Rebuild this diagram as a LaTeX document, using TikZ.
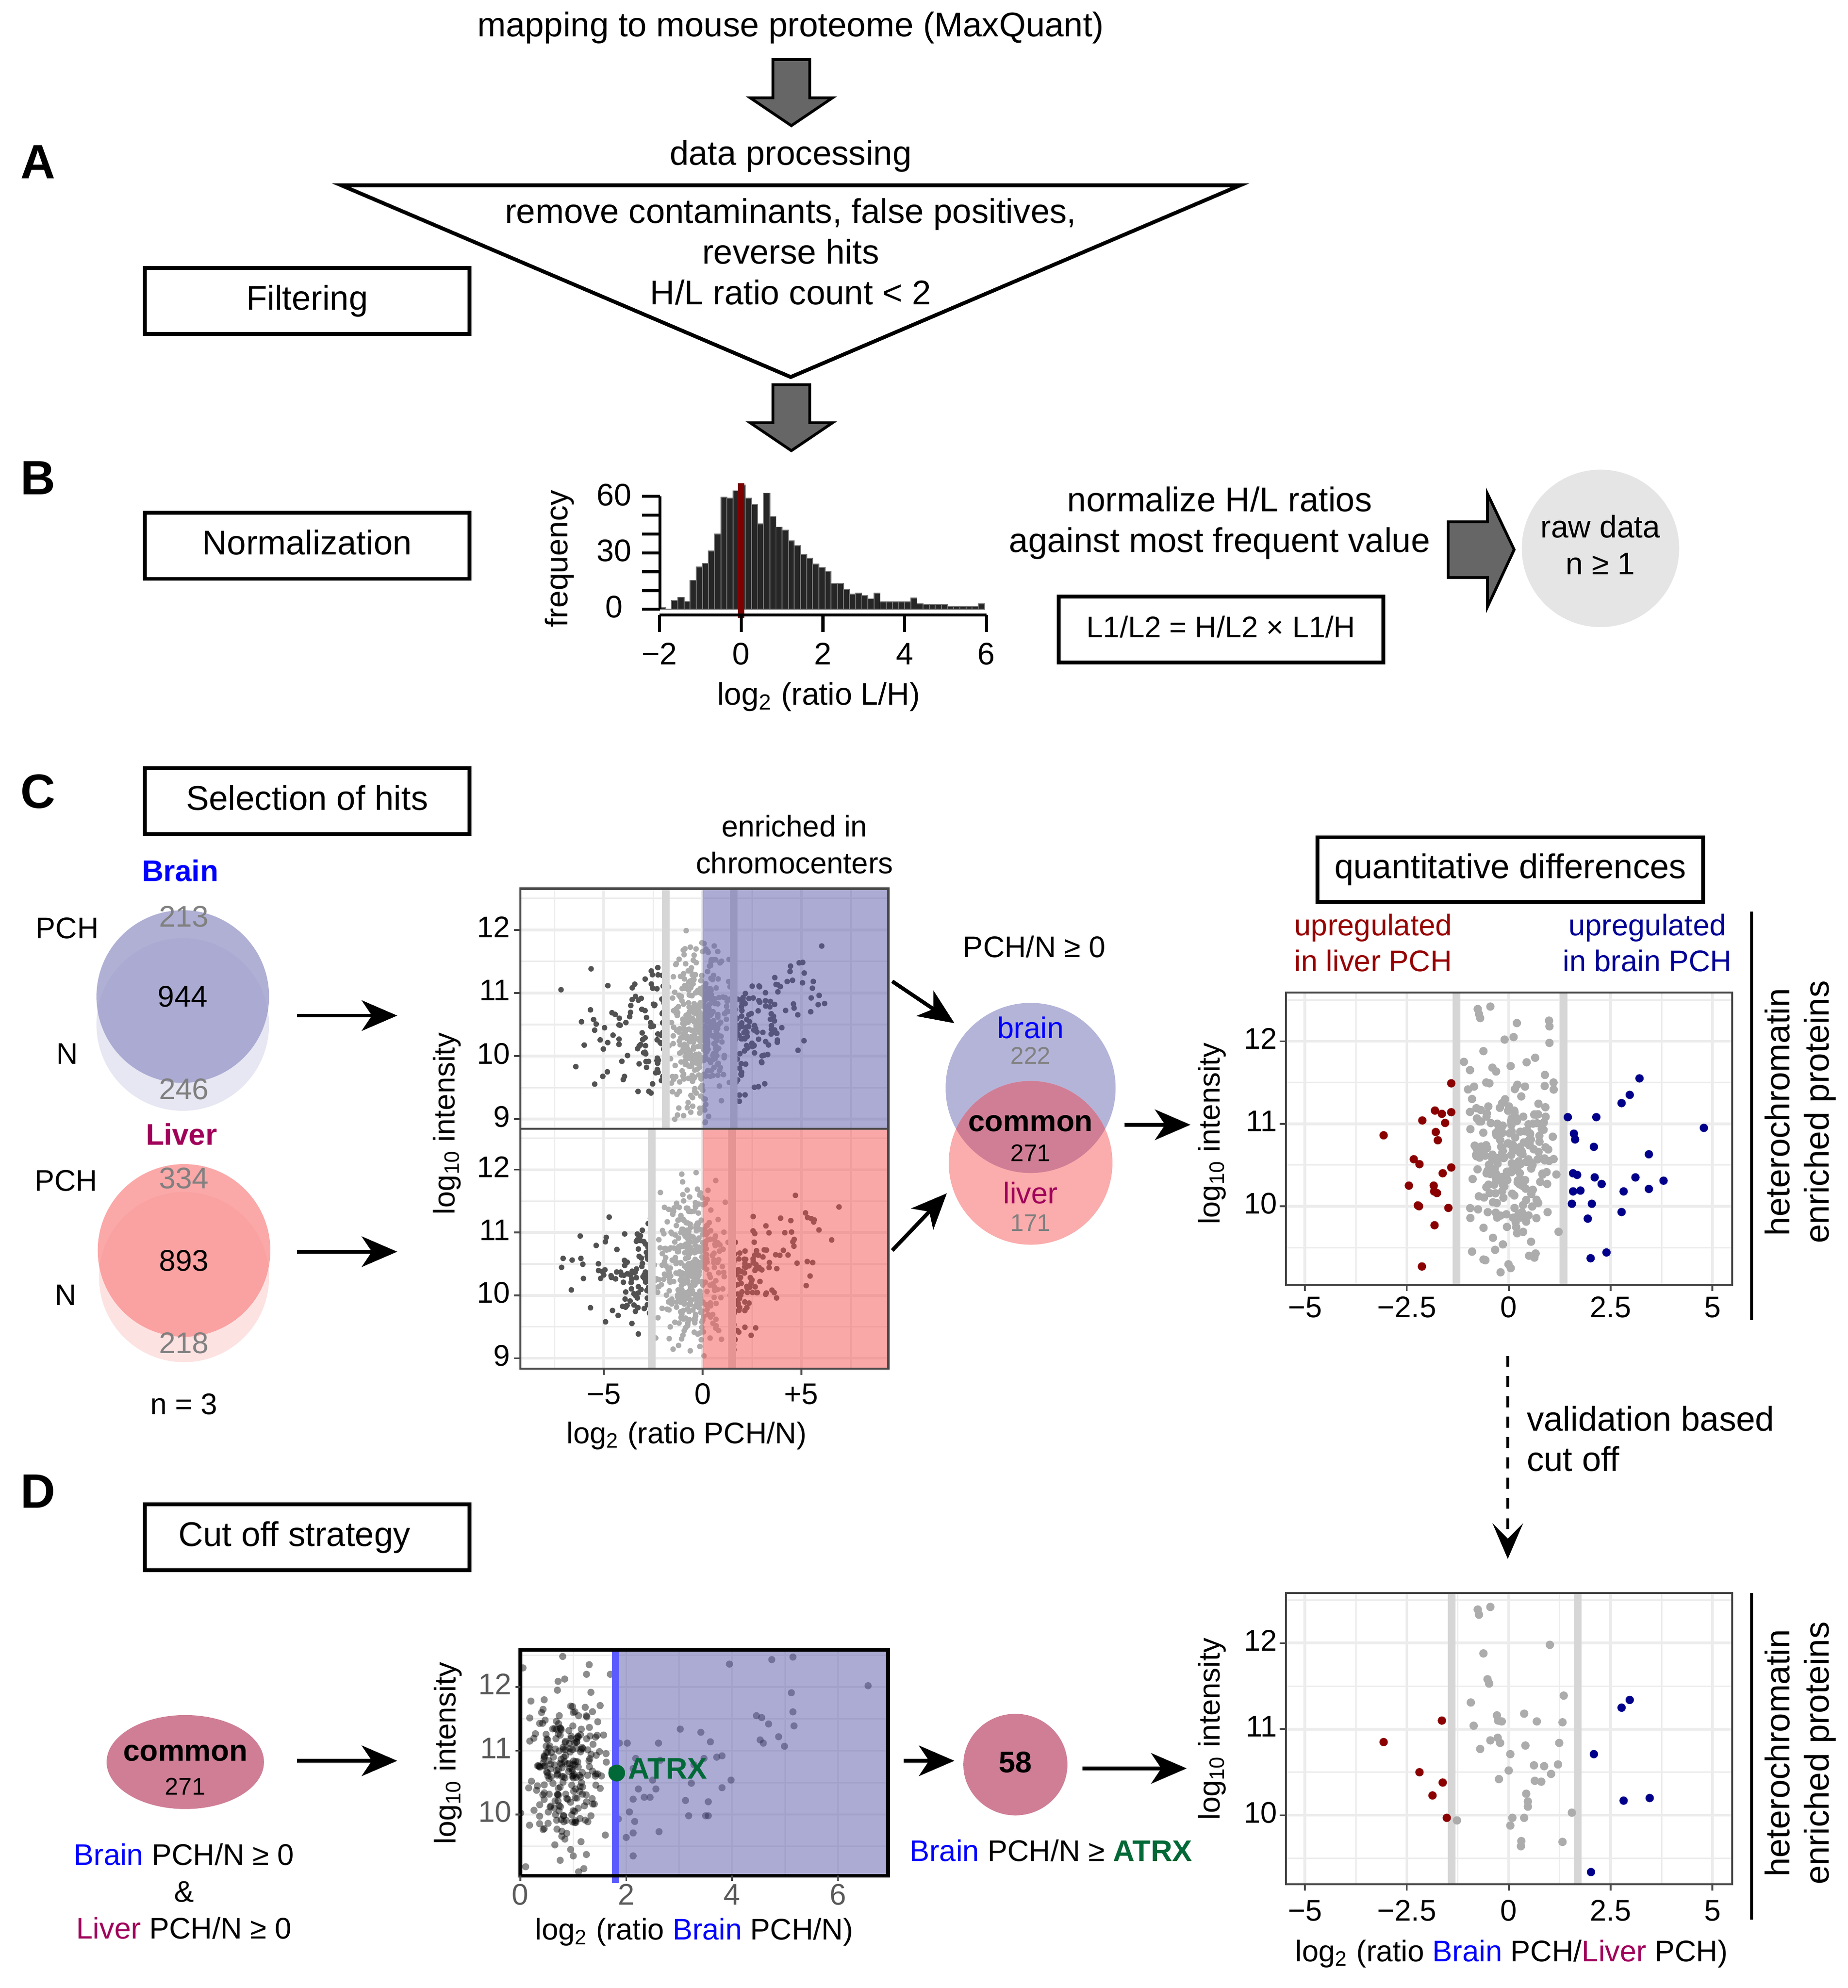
\documentclass[tikz,border=0pt]{standalone}
\usepackage{fontspec}
\setmainfont{Liberation Sans}
\usetikzlibrary{arrows.meta}
\definecolor{arrowgray}{RGB}{102,102,102}
\definecolor{histred}{RGB}{125,0,0}
\definecolor{brainblue}{RGB}{0,0,255}
\definecolor{liverpink}{RGB}{160,0,90}
\definecolor{numgray}{RGB}{128,128,128}
\definecolor{vbpch}{RGB}{150,150,200}
\definecolor{vbn}{RGB}{231,231,243}
\definecolor{vlpch}{RGB}{250,140,140}
\definecolor{vln}{RGB}{253,226,226}
\definecolor{mbrain}{RGB}{180,180,217}
\definecolor{mliver}{RGB}{251,172,172}
\definecolor{commonc}{RGB}{207,126,150}
\definecolor{shadeb}{RGB}{89,89,169}
\definecolor{shader}{RGB}{245,81,81}
\definecolor{gridc}{RGB}{236,236,236}
\definecolor{cutc}{RGB}{214,214,214}
\definecolor{ptlight}{RGB}{172,172,172}
\definecolor{ptdark}{RGB}{82,82,82}
\definecolor{upred}{RGB}{150,0,0}
\definecolor{upblue}{RGB}{0,0,150}
\definecolor{ptred}{RGB}{139,0,0}
\definecolor{ptblue}{RGB}{0,0,139}
\definecolor{atrxgreen}{RGB}{0,105,55}
\definecolor{dline}{RGB}{90,90,255}
\definecolor{rawgray}{RGB}{229,229,229}
\definecolor{panelc}{RGB}{70,70,70}
\begin{document}
\begin{tikzpicture}[x=0.5pt,y=-0.5pt,
  every node/.style={inner sep=0pt,outer sep=0pt},
  fmain/.style={font=\fontsize{13.5}{16}\selectfont,text height=9.7pt,text depth=2.7pt},
  fsmall/.style={font=\fontsize{11.75}{14}\selectfont,text height=8.5pt,text depth=2.4pt},
  fsmallb/.style={font=\fontsize{11.75}{14}\selectfont\bfseries,text height=8.5pt,text depth=2.4pt},
  fnum/.style={font=\fontsize{9.5}{11}\selectfont,text height=6.9pt,text depth=1.9pt},
  fhist/.style={font=\fontsize{12.3}{14}\selectfont,text height=8.9pt,text depth=2.5pt},
  secl/.style={font=\fontsize{19}{22}\selectfont\bfseries,text height=13.7pt,text depth=0pt},
  stepbox/.style={draw,line width=1.5pt,minimum width=128pt,minimum height=26pt,fmain},
  blockarrow/.style={fill=arrowgray,draw=black,line width=1.1pt,line join=miter},
  conn/.style={line width=1.5pt,-{Stealth[length=14pt,width=12pt,inset=4pt]}},
  gmaj/.style={gridc,line width=1.1pt},
  gmin/.style={gridc,line width=0.6pt},
  cutl/.style={cutc,line width=3pt},
  panelb/.style={panelc,line width=0.8pt},
  tickc/.style={panelc,line width=0.7pt}]
\useasboundingbox (0,0) rectangle (1456,1566);
\fill[white] (0,0) rectangle (1456,1566);
\pgfmathsetseed{4711}

%%%%%%%%%%%%%%%% A %%%%%%%%%%%%%%%%
\node[secl] (labA) at (30,127) {A};
\node[fmain] (mapping) at (623,22) {mapping to mouse proteome (MaxQuant)};
\draw[blockarrow] (609,47) -- (638,47) -- (638,77) -- (656,77) -- (623.5,99) -- (591,77) -- (609,77) -- cycle;
\node[fmain] (dataproc) at (623,123) {data processing};
\draw[line width=1.5pt,line join=miter] (269,146) -- (977,146) -- (623,297) -- cycle;
\node[fmain] (tri1) at (623,169) {remove contaminants, false positives,};
\node[fmain] (tri2) at (623,201) {reverse hits};
\node[fmain] (tri3) at (623,233) {H/L ratio count < 2};
\node[stepbox] (filt) at (242,237) {Filtering};
\draw[blockarrow] (609,303) -- (638,303) -- (638,333) -- (656,333) -- (623.5,355) -- (591,333) -- (609,333) -- cycle;

%%%%%%%%%%%%%%%% B %%%%%%%%%%%%%%%%
\node[secl] (labB) at (30,376) {B};
\node[stepbox] (norm) at (242,430) {Normalization};
% histogram
\begin{scope}[shift={(584,480)},x=16.1pt,y=0.7417pt]
  \foreach \h [count=\i from 0] in {1,0,4.7,6.4,4.3,15.4,22.5,24.4,31,40,59.6,59,63,66,59,55.7,45.4,61.7,49.3,43.7,42,36.4,33.9,29.1,27,24,22.3,20.1,13.7,13.7,10.7,8.1,8.6,7.3,5.6,8.6,3.9,3.9,3.9,3.9,3.9,6,3,2.6,2.6,2.6,2.6,1.7,1.7,1.7,1.7,1.7,3}
  {\pgfmathsetmacro\xl{-2+0.15*\i}
   \filldraw[fill=black!85,draw=black!55,line width=0.35pt] (\xl,0) rectangle ++(0.15,\h);}
  \draw[histred,line width=2.4pt] (0,-4.5) -- (0,67);
\end{scope}
\draw[line width=1.2pt] (520,480) -- (520,391);
\foreach \k in {0,...,6} \draw[line width=1.2pt] (506,{480-14.833*\k}) -- (520,{480-14.833*\k});
\draw[line width=1.2pt] (519.6,484.5) -- (777.2,484.5);
\foreach \t in {-2,0,2,4,6} \draw[line width=1.2pt] ({584+32.2*\t},484.5) -- ({584+32.2*\t},498);
\node[fhist] (hy60) at (484,392) {60};
\node[fhist] (hy30) at (484,436) {30};
\node[fhist] (hy0) at (484,480) {0};
\node[fhist,rotate=90] (hfreq) at (441,440) {frequency};
\node[fhist] (hxm2) at (519.6,517) {−2};
\node[fhist] (hx0) at (584,517) {0};
\node[fhist] (hx2) at (648.4,517) {2};
\node[fhist] (hx4) at (712.8,517) {4};
\node[fhist] (hx6) at (777.2,517) {6};
\node[fhist] (hxlab) at (645,549) {log\textsubscript{2} (ratio L/H)};
\node[fmain] (nrm1) at (961,396) {normalize H/L ratios};
\node[fmain] (nrm2) at (961,428) {against most frequent value};
\node[stepbox,fsmall] (formula) at (962,496) {L1/L2 = H/L2 × L1/H};
\draw[blockarrow] (1141,411) -- (1172,411) -- (1172,389) -- (1193,433) -- (1172,478) -- (1172,455) -- (1141,455) -- cycle;
\node[circle,fill=rawgray,minimum size=62pt] (raw) at (1261,432) {};
\node[fhist] (raw1) at (1261,417) {raw data};
\node[fhist] (raw2) at (1261,446) {n ≥ 1};

%%%%%%%%%%%%%%%% C %%%%%%%%%%%%%%%%
\node[secl] (labC) at (30,623) {C};
\node[stepbox] (selbox) at (242,631) {Selection of hits};
% brain venn
\node[fsmallb,text=brainblue] (brainT) at (142,688) {Brain};
\fill[vbn] (144,807) circle[radius=68];
\fill[vbpch,opacity=0.75] (144,785) circle[radius=68];
\node[fsmall,text=numgray] (b213) at (145,724) {213};
\node[fsmall] (b944) at (144,787) {944};
\node[fsmall,text=numgray] (b246) at (145,860) {246};
\node[fsmall] (bpch) at (53,733) {PCH};
\node[fsmall] (bn) at (53,832) {N};
% liver venn
\node[fsmallb,text=liverpink] (liverT) at (143,896) {Liver};
\fill[vln] (145,1006) circle[radius=67];
\fill[vlpch,opacity=0.75] (145,985) circle[radius=68];
\node[fsmall,text=numgray] (l334) at (145,930) {334};
\node[fsmall] (l893) at (145,995) {893};
\node[fsmall,text=numgray] (l218) at (145,1060) {218};
\node[fsmall] (lpch) at (52,932) {PCH};
\node[fsmall] (ln) at (52,1022) {N};
\node[fsmall] (nthree) at (145,1108) {n = 3};
\coordinate (cA1s) at (234,800); \coordinate (cA1e) at (313,800);
\coordinate (cA2s) at (234,986); \coordinate (cA2e) at (313,986);
\draw[conn] (cA1s) -- (cA1e);
\draw[conn] (cA2s) -- (cA2e);

% C middle top panel
\begin{scope}[shift={(553.6,1328.9)},x=7.785pt,y=24.85pt]
  \foreach \g in {-7.5,-2.5,2.5,7.5} \draw[gmin] (\g,8.851) -- (\g,12.654);
  \foreach \g in {-5,0,5} \draw[gmaj] (\g,8.851) -- (\g,12.654);
  \foreach \g in {9.5,10.5,11.5,12.5} \draw[gmin] (-9.22,\g) -- (9.40,\g);
  \foreach \g in {9,10,11,12} \draw[gmaj] (-9.22,\g) -- (9.40,\g);
  \begin{scope}
    \clip (-9.22,8.851) rectangle (9.40,12.654);
    \foreach \i in {1,...,420}{\pgfmathsetmacro\pa{-0.15+0.85*(rand+rand)}\pgfmathsetmacro\pb{10.45+0.6*(rand+rand+rand)}\fill[ptlight] (\pa,\pb) circle[radius=1.1pt];}
    \foreach \i in {1,...,100}{\pgfmathsetmacro\pa{-1.95-5.3*rnd*rnd}\pgfmathsetmacro\pb{10.45+0.55*(rand+rand)}\fill[ptdark] (\pa,\pb) circle[radius=1.1pt];}
    \foreach \i in {1,...,130}{\pgfmathsetmacro\pa{1.6+5.4*rnd*rnd}\pgfmathsetmacro\pb{10.05+0.22*(\pa-1.6)+0.5*(rand+rand)}\fill[ptdark] (\pa,\pb) circle[radius=1.1pt];}
    \draw[cutl] (-1.87,8.851) -- (-1.87,12.654);
    \draw[cutl] (1.58,8.851) -- (1.58,12.654);
  \end{scope}
  \fill[shadeb,opacity=0.5] (0,8.851) rectangle (9.40,12.654);
  \draw[panelb] (-9.22,8.851) rectangle (9.40,12.654);
  \foreach \g in {9,10,11,12}{
    \draw[tickc] (-9.22,\g) -- ++(-2.5pt,0pt);
    \node[fsmall,anchor=east,xshift=-4pt] (cty\g) at (-9.22,\g) {\g};}
\end{scope}
% C middle bottom panel
\begin{scope}[shift={(553.6,1515.4)},x=7.785pt,y=24.75pt]
  \foreach \g in {-7.5,-2.5,2.5,7.5} \draw[gmin] (\g,8.836) -- (\g,12.655);
  \foreach \g in {-5,0,5} \draw[gmaj] (\g,8.836) -- (\g,12.655);
  \foreach \g in {9.5,10.5,11.5,12.5} \draw[gmin] (-9.22,\g) -- (9.40,\g);
  \foreach \g in {9,10,11,12} \draw[gmaj] (-9.22,\g) -- (9.40,\g);
  \begin{scope}
    \clip (-9.22,8.836) rectangle (9.40,12.655);
    \foreach \i in {1,...,420}{\pgfmathsetmacro\pa{-0.55+1.0*(rand+rand)}\pgfmathsetmacro\pb{10.45+0.6*(rand+rand+rand)}\fill[ptlight] (\pa,\pb) circle[radius=1.1pt];}
    \foreach \i in {1,...,100}{\pgfmathsetmacro\pa{-2.6-4.9*rnd*rnd}\pgfmathsetmacro\pb{10.35+0.5*(rand+rand)}\fill[ptdark] (\pa,\pb) circle[radius=1.1pt];}
    \foreach \i in {1,...,130}{\pgfmathsetmacro\pa{1.5+5.6*rnd*rnd}\pgfmathsetmacro\pb{10.0+0.25*(\pa-1.5)+0.5*(rand+rand)}\fill[ptdark] (\pa,\pb) circle[radius=1.1pt];}
    \draw[cutl] (-2.57,8.836) -- (-2.57,12.655);
    \draw[cutl] (1.50,8.836) -- (1.50,12.655);
  \end{scope}
  \fill[shader,opacity=0.5] (0,8.836) rectangle (9.40,12.655);
  \draw[panelb] (-9.22,8.836) rectangle (9.40,12.655);
  \foreach \g in {9,10,11,12}{
    \draw[tickc] (-9.22,\g) -- ++(-2.5pt,0pt);
    \node[fsmall,anchor=east,xshift=-4pt] (cby\g) at (-9.22,\g) {\g};}
  \foreach \g in {-5,0,5} \draw[tickc] (\g,8.836) -- ++(0pt,-2.5pt);
  \node[fsmall,anchor=north,yshift=-5.5pt] (cbxm5) at (-5,8.836) {−5};
  \node[fsmall,anchor=north,yshift=-5.5pt] (cbx0) at (0,8.836) {0};
  \node[fsmall,anchor=north,yshift=-5.5pt] (cbxp5) at (5,8.836) {+5};
\end{scope}
\node[fsmall,rotate=90] (cmylab) at (352,885) {log\textsubscript{10} intensity};
\node[fsmall] (cmxlab) at (541,1131) {log\textsubscript{2} (ratio PCH/N)};
\node[fsmall] (enr1) at (626,653) {enriched in};
\node[fsmall] (enr2) at (626,682) {chromocenters};

% middle venn
\node[fsmall] (pchn) at (815,748) {PCH/N ≥ 0};
\fill[mbrain] (812,857) circle[radius=67];
\fill[mliver] (812,916) circle[radius=64.5];
\begin{scope}
  \clip (812,857) circle[radius=67];
  \fill[commonc] (812,916) circle[radius=64.5];
\end{scope}
\node[fsmall,text=brainblue] (mvb) at (812,812) {brain};
\node[fnum,text=numgray] (mv222) at (812,833) {222};
\node[fsmallb] (mvc) at (812,885) {common};
\node[fnum] (mv271) at (812,910) {271};
\node[fsmall,text=liverpink] (mvl) at (812,942) {liver};
\node[fnum,text=numgray] (mv171) at (812,965) {171};
\coordinate (cA3s) at (703,773); \coordinate (cA3e) at (752,806);
\coordinate (cA4s) at (703,985); \coordinate (cA4e) at (746,940);
\coordinate (cA5s) at (886,886); \coordinate (cA5e) at (938,886);
\draw[conn] (cA3s) -- (cA3e);
\draw[conn] (cA4s) -- (cA4e);
\draw[conn] (cA5s) -- (cA5e);

% C right
\node[stepbox,minimum width=152pt,minimum height=25.5pt] (quant) at (1190,685) {quantitative differences};
\node[fsmall,text=upred] (upl1) at (1082,731) {upregulated};
\node[fsmall,text=upred] (upl2) at (1082,759) {in liver PCH};
\node[fsmall,text=upblue] (upb1) at (1298,731) {upregulated};
\node[fsmall,text=upblue] (upb2) at (1298,759) {in brain PCH};
\begin{scope}[shift={(1188.7,1600.2)},x=16.05pt,y=32.5pt]
  \foreach \g in {-3.75,-1.25,1.25,3.75} \draw[gmin] (\g,9.05) -- (\g,12.59);
  \foreach \g in {-5,-2.5,0,2.5,5} \draw[gmaj] (\g,9.05) -- (\g,12.59);
  \foreach \g in {9.5,10.5,11.5,12.5} \draw[gmin] (-5.47,\g) -- (5.49,\g);
  \foreach \g in {10,11,12} \draw[gmaj] (-5.47,\g) -- (5.49,\g);
  \draw[cutl] (-1.28,9.05) -- (-1.28,12.59);
  \draw[cutl] (1.35,9.05) -- (1.35,12.59);
  \begin{scope}
    \clip (-5.47,9.05) rectangle (5.49,12.59);
    \foreach \i in {1,...,220}{\pgfmathsetmacro\pa{0.1+0.6*(rand+rand)}\pgfmathsetmacro\pb{10.55+0.5*(rand+rand+rand)}\fill[ptlight] (\pa,\pb) circle[radius=1.65pt];}
    \foreach \a/\b in {-0.76/12.39,-0.45/12.42,-0.73/12.33,-0.7/12.28,0.2/12.22,0.12/12.05,-0.1/12.02,0.99/12.25,1.0/12.18,1.0/11.98,-0.62/11.88,0.65/11.8,-1.1/11.75,-0.95/11.65,-0.4/11.68,-0.55/11.5,-0.85/11.45,0.4/11.45,0.15/11.42,1.1/11.5,-0.9/11.3,0.9/11.2,-0.2/9.2,0.05/9.25,-0.9/9.45,0.5/9.4}
      \fill[ptlight] (\a,\b) circle[radius=1.65pt];
    \foreach \a/\b in {-1.41/11.49,-1.81/11.16,-1.64/11.12,-2.12/11.04,-1.56/11.01,-3.07/10.86,-1.79/10.90,-1.74/10.80,-2.33/10.57,-2.19/10.51,-1.62/10.40,-2.45/10.25,-1.84/10.25,-1.76/10.16,-2.23/10.01,-1.48/9.98,-1.82/9.77,-2.13/9.27,-1.41/10.47,-1.41/11.14,-1.83/10.18,-2.2/10.0}
      \fill[ptred] (\a,\b) circle[radius=1.65pt];
    \foreach \a/\b in {3.21/11.55,2.97/11.35,2.77/11.25,2.15/11.08,1.45/11.08,1.60/10.88,1.63/10.81,2.09/10.72,4.79/10.95,3.44/10.63,1.58/10.40,1.68/10.38,2.11/10.35,2.28/10.27,3.11/10.35,3.80/10.31,3.44/10.21,1.58/10.18,1.76/10.19,2.82/10.18,1.55/10.03,2.04/10.03,1.94/9.85,2.77/9.93,2.40/9.44,2.01/9.37}
      \fill[ptblue] (\a,\b) circle[radius=1.65pt];
  \end{scope}
  \draw[panelb] (-5.47,9.05) rectangle (5.49,12.59);
  \foreach \g in {10,11,12}{
    \draw[tickc] (-5.47,\g) -- ++(-2.5pt,0pt);
    \node[fsmall,anchor=east,xshift=-3.5pt] (cry\g) at (-5.47,\g) {\g};}
  \foreach \g in {-5,-2.5,0,2.5,5} \draw[tickc] (\g,9.05) -- ++(0pt,-2.5pt);
  \node[fsmall,anchor=north,yshift=-4.5pt] (crxa) at (-5,9.05) {−5};
  \node[fsmall,anchor=north,yshift=-4.5pt] (crxb) at (-2.5,9.05) {−2.5};
  \node[fsmall,anchor=north,yshift=-4.5pt] (crxc) at (0,9.05) {0};
  \node[fsmall,anchor=north,yshift=-4.5pt] (crxd) at (2.5,9.05) {2.5};
  \node[fsmall,anchor=north,yshift=-4.5pt] (crxe) at (5,9.05) {5};
\end{scope}
\node[fsmall,rotate=90] (crylab) at (955,893) {log\textsubscript{10} intensity};
\draw[line width=1.2pt] (1380,718) -- (1380,1040);
\node[fmain,rotate=90] (het1) at (1403,876) {heterochromatin};
\node[fmain,rotate=90] (het2) at (1434,876) {enriched proteins};

% validation arrow
\coordinate (valS) at (1188,1068);
\coordinate (valE) at (1188,1228);
\draw[line width=1.3pt,dash pattern=on 4.3pt off 3.7pt,-{Stealth[length=14pt,width=12pt,inset=6pt]}] (valS) -- (valE);
\node[fmain,anchor=west] (val1) at (1203,1120) {validation based};
\node[fmain,anchor=west] (val2) at (1203,1152) {cut off};

%%%%%%%%%%%%%%%% D %%%%%%%%%%%%%%%%
\node[secl] (labD) at (30,1174) {D};
\node[stepbox] (cutbox) at (242,1211) {Cut off strategy\kern 10pt};
\fill[commonc] (146,1388) ellipse[x radius=62,y radius=37];
\node[fsmallb] (dcom) at (146,1381) {common};
\node[fnum] (d271) at (146,1409) {271};
\coordinate (dA1s) at (234,1387); \coordinate (dA1e) at (313,1387);
\draw[conn] (dA1s) -- (dA1e);
\node[fsmall] (dc1) at (145,1463) {\textcolor{brainblue}{Brain} PCH/N ≥ 0};
\node[fsmall] (dc2) at (145,1492) {\&};
\node[fsmall] (dc3) at (145,1521) {\textcolor{liverpink}{Liver} PCH/N ≥ 0};

% D middle plot
\begin{scope}[shift={(410,1931.3)},x=20.85pt,y=25.1pt]
  \foreach \g in {1,...,6} \draw[gmin] (\g,9.04) -- (\g,12.58);
  \foreach \g in {9.5,10,10.5,11,11.5,12,12.5} \draw[gmin] (0,\g) -- (6.95,\g);
  \begin{scope}
    \clip (0,9.04) rectangle (6.95,12.58);
    \foreach \i in {1,...,230}{\pgfmathsetmacro\pa{0.85+0.45*(rand+rand)}\pgfmathsetmacro\pb{10.65+0.55*(rand+rand+rand)}\fill[black,opacity=0.45] (\pa,\pb) circle[radius=1.4pt];}
    \foreach \a/\b in {0.8/12.48,0.05/12.3,1.3/12.35,1.7/12.2,1.25/12.2,0.7/11.95,0.2/11.78,0.45/11.8,0.95/11.7,1.0/11.6,1.1/11.55,0.4/11.6,0.1/9.18,1.1/9.1,1.2/9.15,0.95/9.45,1.0/9.35,3.95/12.36,4.75/12.43,5.15/12.47,6.57/12.02,5.12/11.91,5.15/11.61,5.17/11.39,4.46/11.55,4.56/11.52,4.69/11.42,4.88/11.22,4.99/11.07,4.53/11.17,4.59/11.12,3.02/11.34,3.41/11.29,3.59/11.14,2.61/11.12,1.87/11.12,2.02/11.12,3.81/10.92,3.71/10.90,3.47/10.88,3.28/10.78,3.23/10.49,2.64/10.85,2.18/10.88,2.13/10.72,3.98/10.54,3.81/10.42,2.23/10.40,2.56/10.40,2.34/10.27,2.45/10.27,2.13/10.24,3.12/10.22,3.55/10.20,3.18/9.98,3.50/9.98,3.55/9.98,2.06/10.04,2.16/9.89,1.85/9.93,2.62/9.73,2.00/9.64,2.13/9.71,2.13/9.35,2.50/10.54}
      \fill[black,opacity=0.45] (\a,\b) circle[radius=1.4pt];
  \end{scope}
  \fill[shadeb,opacity=0.5] (1.8,9.04) rectangle (6.95,12.58);
  \draw[dline,line width=3pt] (1.8,8.93) -- (1.8,12.58);
  \draw[black,line width=1.4pt] (0,9.04) rectangle (6.95,12.58);
  \fill[atrxgreen] (1.82,10.65) circle[radius=3.3pt];
  \foreach \g in {10,11,12}{
    \draw[tickc] (0,\g) -- ++(-2pt,0pt);
    \node[fsmall,text=black!65,anchor=east,xshift=-3.5pt] (dmy\g) at (0,\g) {\g};}
  \foreach \g in {0,2,4,6}{
    \draw[tickc] (\g,9.04) -- ++(0pt,-2pt);
    \node[fsmall,text=black!65,anchor=north,yshift=-3pt] (dmx\g) at (\g,9.04) {\g};}
\end{scope}
\node[fsmallb,text=atrxgreen,anchor=west] (atrx) at (495,1395) {ATRX};
\node[fsmall,rotate=90] (dmylab) at (353,1381) {log\textsubscript{10} intensity};
\node[fsmall] (dmxlab) at (547,1522) {log\textsubscript{2} (ratio \textcolor{brainblue}{Brain} PCH/N)};
\coordinate (dA2s) at (712,1387); \coordinate (dA2e) at (752,1387);
\draw[conn] (dA2s) -- (dA2e);
\fill[commonc] (800,1390) ellipse[x radius=41,y radius=40];
\node[fsmallb] (d58) at (800,1390) {58};
\coordinate (dA3s) at (853,1393); \coordinate (dA3e) at (935,1393);
\draw[conn] (dA3s) -- (dA3e);
\node[fsmall] (dcrit) at (828,1460) {\textcolor{brainblue}{Brain} PCH/N ≥ \textcolor{atrxgreen}{\bfseries ATRX}};

% D right plot
\begin{scope}[shift={(1188.7,2107.9)},x=16.05pt,y=33.9pt]
  \foreach \g in {-3.75,-1.25,1.25,3.75} \draw[gmin] (\g,9.20) -- (\g,12.58);
  \foreach \g in {-5,-2.5,0,2.5,5} \draw[gmaj] (\g,9.20) -- (\g,12.58);
  \foreach \g in {9.5,10.5,11.5,12.5} \draw[gmin] (-5.47,\g) -- (5.49,\g);
  \foreach \g in {10,11,12} \draw[gmaj] (-5.47,\g) -- (5.49,\g);
  \draw[cutl] (-1.4,9.20) -- (-1.4,12.58);
  \draw[cutl] (1.69,9.20) -- (1.69,12.58);
  \foreach \a/\b in {-0.76/12.39,-0.45/12.42,-0.73/12.33,1.01/11.98,-0.62/11.88,-0.48/11.53,-0.52/11.58,1.35/11.39,-0.93/11.31,0.38/11.18,-0.29/11.16,-0.26/11.10,-0.17/11.09,0.69/11.09,1.32/11.08,-0.86/11.04,-0.45/10.87,-0.27/10.90,-0.21/10.84,0.41/10.81,1.24/10.84,-0.70/10.77,0.04/10.71,0.62/10.58,0.87/10.57,1.21/10.59,0/10.52,1.04/10.48,-0.24/10.42,0.64/10.40,0.80/10.39,0.43/10.25,0.47/10.16,0.47/10.10,1.55/10.03,0.09/9.97,0.38/9.97,-1.27/9.94,0.04/9.88,0.31/9.70,1.32/9.69,0.30/9.64}
    \fill[ptlight] (\a,\b) circle[radius=1.65pt];
  \foreach \a/\b in {-3.07/10.85,-2.19/10.50,-1.64/11.10,-1.62/10.38,-1.87/10.23,-1.52/9.97}
    \fill[ptred] (\a,\b) circle[radius=1.65pt];
  \foreach \a/\b in {2.77/11.25,2.97/11.34,2.09/10.71,2.82/10.17,3.46/10.20,2.02/9.34}
    \fill[ptblue] (\a,\b) circle[radius=1.65pt];
  \draw[panelb] (-5.47,9.20) rectangle (5.49,12.58);
  \foreach \g in {10,11,12}{
    \draw[tickc] (-5.47,\g) -- ++(-2.5pt,0pt);
    \node[fsmall,anchor=east,xshift=-3.5pt] (dry\g) at (-5.47,\g) {\g};}
  \foreach \g in {-5,-2.5,0,2.5,5} \draw[tickc] (\g,9.20) -- ++(0pt,-2.5pt);
  \node[fsmall,anchor=north,yshift=-6pt] (drxa) at (-5,9.20) {−5};
  \node[fsmall,anchor=north,yshift=-6pt] (drxb) at (-2.5,9.20) {−2.5};
  \node[fsmall,anchor=north,yshift=-6pt] (drxc) at (0,9.20) {0};
  \node[fsmall,anchor=north,yshift=-6pt] (drxd) at (2.5,9.20) {2.5};
  \node[fsmall,anchor=north,yshift=-6pt] (drxe) at (5,9.20) {5};
\end{scope}
\node[fsmall,rotate=90] (drylab) at (955,1362) {log\textsubscript{10} intensity};
\node[fsmall] (drxlab) at (1191,1539) {log\textsubscript{2} (ratio \textcolor{brainblue}{Brain} PCH/\textcolor{liverpink}{Liver} PCH)};
\draw[line width=1.2pt] (1380,1255) -- (1380,1512);
\node[fmain,rotate=90] (het3) at (1403,1381) {heterochromatin};
\node[fmain,rotate=90] (het4) at (1434,1381) {enriched proteins};
\end{tikzpicture}
\end{document}
